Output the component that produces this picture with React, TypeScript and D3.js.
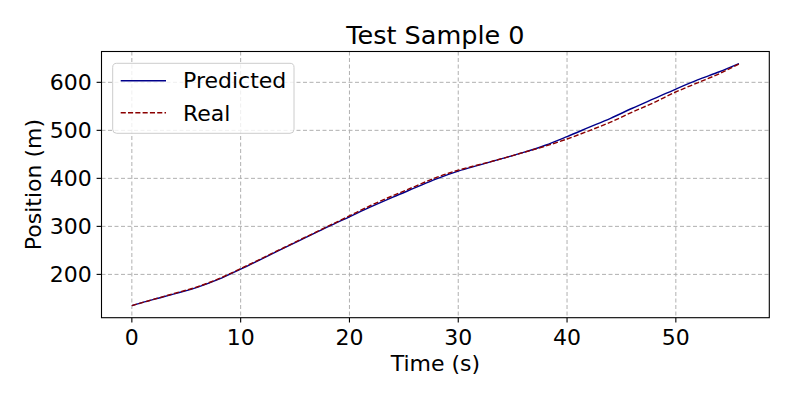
import React from "react";
import * as d3 from "d3";

const time = [0, 2, 4, 6, 8, 10, 12, 14, 16, 18, 20, 22, 24, 26, 28, 30, 32, 34, 36, 38, 40, 42, 44, 46, 48, 50, 52, 54, 55.8];
const predicted = [135, 148, 160, 173, 190, 211, 233, 255, 277, 299, 320, 341, 361, 380, 399, 415, 428, 441, 454, 469, 487, 506, 525, 546, 566, 586, 605, 622, 639];
const real = [135, 148, 161, 174, 191, 212, 234, 256, 278, 300, 322, 344, 364, 383, 402, 417, 429, 441, 454, 467, 482, 499, 517, 538, 558, 580, 599, 618, 638];
const xTicks = [0, 10, 20, 30, 40, 50];
const yTicks = [200, 300, 400, 500, 600];

const width = 793;
const height = 397;
const left = 101.5;
const right = 769.3;
const top = 51.5;
const bottom = 317.7;
const font = "DejaVu Sans, sans-serif";

const App = () => {
  const xExt = d3.extent(time) as [number, number];
  const allY = predicted.concat(real);
  const yExt = d3.extent(allY) as [number, number];
  const xPad = (xExt[1] - xExt[0]) * 0.05;
  const yPad = (yExt[1] - yExt[0]) * 0.05;

  const x = d3.scaleLinear().domain([xExt[0] - xPad, xExt[1] + xPad]).range([left, right]);
  const y = d3.scaleLinear().domain([yExt[0] - yPad, yExt[1] + yPad]).range([bottom, top]);

  // data is coarse, smooth it a bit so it reads like the dense original
  const line = d3
    .line<number>()
    .x((d, i) => x(time[i]))
    .y((d) => y(d))
    .curve(d3.curveMonotoneX);

  return (
    <svg width={width} height={height} style={{ position: "absolute", left: 0, top: 0 }}>
      <rect width={width} height={height} fill="#fff" />
      <g>
        {xTicks.map((t) => (
          <line key={"gx" + t} x1={x(t)} x2={x(t)} y1={top} y2={bottom} stroke="#b0b0b0" strokeWidth={1} strokeDasharray="4,2.5" />
        ))}
        {yTicks.map((t) => (
          <line key={"gy" + t} x1={left} x2={right} y1={y(t)} y2={y(t)} stroke="#b0b0b0" strokeWidth={1} strokeDasharray="4,2.5" />
        ))}
      </g>
      <path d={line(predicted) || ""} fill="none" stroke="#00008b" strokeWidth={1.4} />
      <path d={line(real) || ""} fill="none" stroke="#8b0000" strokeWidth={1.4} strokeDasharray="5.1,2.2" />
      <rect x={left} y={top} width={right - left} height={bottom - top} fill="none" stroke="#000" strokeWidth={1.1} />
      {xTicks.map((t) => (
        <g key={"xt" + t}>
          <line x1={x(t)} x2={x(t)} y1={bottom} y2={bottom + 4.9} stroke="#000" strokeWidth={1.1} />
          <text x={x(t)} y={345} textAnchor="middle" fontFamily={font} fontSize={22}>
            {t}
          </text>
        </g>
      ))}
      {yTicks.map((t) => (
        <g key={"yt" + t}>
          <line x1={left - 4.9} x2={left} y1={y(t)} y2={y(t)} stroke="#000" strokeWidth={1.1} />
          <text x={left - 9.8} y={y(t) + 8} textAnchor="end" fontFamily={font} fontSize={22}>
            {t}
          </text>
        </g>
      ))}
      <text x={(left + right) / 2} y={371} textAnchor="middle" fontFamily={font} fontSize={22}>
        Time (s)
      </text>
      <text
        transform={`translate(40.5,${(top + bottom) / 2}) rotate(-90)`}
        textAnchor="middle"
        fontFamily={font}
        fontSize={22}
      >
        Position (m)
      </text>
      <text x={(left + right) / 2} y={43.5} textAnchor="middle" fontFamily={font} fontSize={25.5}>
        Test Sample 0
      </text>
      <g>
        <rect x={112.7} y={63.3} width={181.3} height={70} rx={4} fill="#fff" fillOpacity={0.8} stroke="#cccccc" strokeWidth={1} />
        <line x1={120.7} x2={166} y1={80.7} y2={80.7} stroke="#00008b" strokeWidth={1.4} />
        <line x1={120.7} x2={166} y1={112.7} y2={112.7} stroke="#8b0000" strokeWidth={1.4} strokeDasharray="5.1,2.2" />
        <text x={183} y={88.3} fontFamily={font} fontSize={22}>
          Predicted
        </text>
        <text x={183} y={121} fontFamily={font} fontSize={22}>
          Real
        </text>
      </g>
    </svg>
  );
};

export default App;
